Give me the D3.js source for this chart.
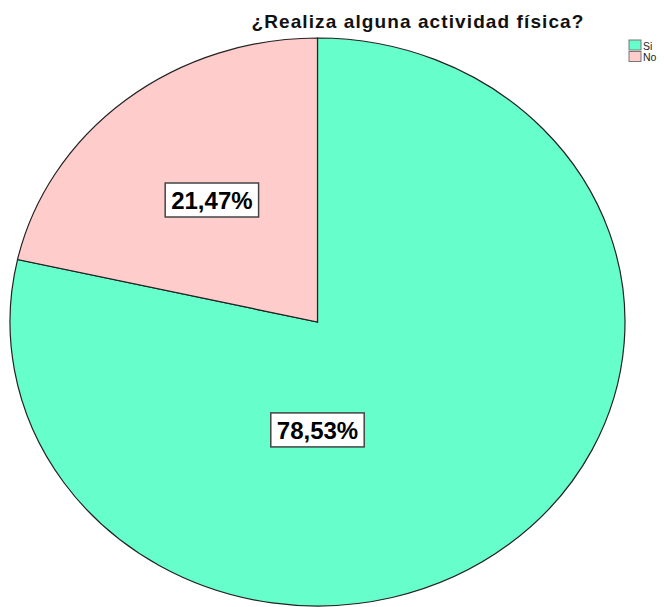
<!DOCTYPE html>
<html>
<head>
<meta charset="utf-8">
<script src="https://cdn.jsdelivr.net/npm/d3@7"></script>
<style>
  body { margin: 0; background: #fff; }
  text { font-family: "Liberation Sans", Arial, sans-serif; }
</style>
</head>
<body>
<div id="vis"></div>
<script>
const categories = ["Si", "No"];
const percents = [78.53, 21.47];
const colors = ["#66ffcc", "#ffcccc"];
const title = "¿Realiza alguna actividad física?";

const W = 664, H = 607;
const cx = 317.5, cy = 322, rx = 307.5, ry = 284;

const svg = d3.select("#vis").append("svg")
  .attr("width", W)
  .attr("height", H);

const data = categories.map((c, i) => ({ cat: c, value: percents[i] }));

const pie = d3.pie().sort(null).value(d => d.value);
const arcs = pie(data);

// draw unit circle pie then stretch it into the ellipse
const R = 100;
const arc = d3.arc().innerRadius(0).outerRadius(R);

const g = svg.append("g")
  .attr("transform", `translate(${cx},${cy}) scale(${rx / R},${ry / R})`);

g.selectAll("path")
  .data(arcs)
  .enter()
  .append("path")
  .attr("d", arc)
  .attr("fill", (d, i) => colors[i])
  .attr("stroke", "#222")
  .attr("stroke-width", 1.2)
  .attr("vector-effect", "non-scaling-stroke");

// label placement: angle (radians, clockwise from top) and radius fraction
const labelPlace = [
  d => ({ a: Math.PI, f: 0.38 }),
  d => ({ a: (d.startAngle + d.endAngle) / 2, f: 0.55 })
];

const fmt = v => v.toFixed(2).replace(".", ",") + "%";

arcs.forEach((d, i) => {
  const p = labelPlace[i](d);
  const x = cx + Math.sin(p.a) * rx * p.f;
  const y = cy - Math.cos(p.a) * ry * p.f;
  const lg = svg.append("g").attr("transform", `translate(${x},${y})`);
  const t = lg.append("text")
    .attr("text-anchor", "middle")
    .attr("dy", "0.36em")
    .attr("font-size", "24px")
    .attr("font-weight", "bold")
    .attr("fill", "#000")
    .text(fmt(d.data.value));
  const bb = t.node().getBBox();
  lg.insert("rect", "text")
    .attr("x", bb.x - 6)
    .attr("y", -17)
    .attr("width", bb.width + 12)
    .attr("height", 34)
    .attr("fill", "#fff")
    .attr("stroke", "#444")
    .attr("stroke-width", 1.5);
});

// TITLE
svg.append("text")
  .attr("x", 418)
  .attr("y", 28)
  .attr("text-anchor", "middle")
  .attr("font-size", "19px")
  .attr("font-weight", "bold")
  .attr("letter-spacing", "1.1px")
  .attr("fill", "#111")
  .text(title);

// LEGEND
const legend = svg.append("g").attr("transform", "translate(629,40)");
categories.forEach((c, i) => {
  legend.append("rect")
    .attr("x", 0)
    .attr("y", i * 11.5)
    .attr("width", 12)
    .attr("height", 10)
    .attr("fill", colors[i])
    .attr("stroke", "#777")
    .attr("stroke-width", 1);
  legend.append("text")
    .attr("x", 14)
    .attr("y", i * 11.5 + 9.5)
    .attr("font-size", "10.5px")
    .attr("fill", "#222")
    .text(c);
});
</script>
</body>
</html>
